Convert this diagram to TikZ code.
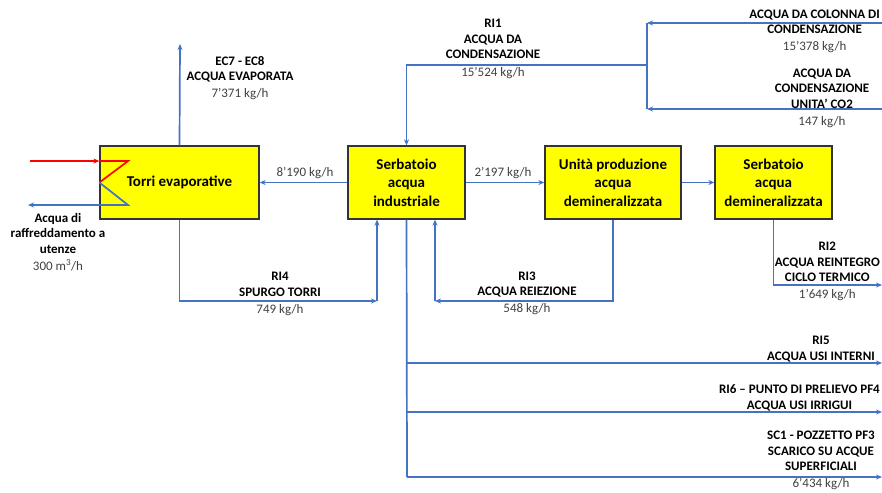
\documentclass[tikz,border=0pt]{standalone}
\usepackage{fontspec}
\setmainfont{Carlito}
\usepackage{tikz}
\usetikzlibrary{arrows.meta,calc,positioning}
\definecolor{flowblue}{HTML}{4472C4}
\definecolor{qtygray}{HTML}{404040}
\definecolor{boxyellow}{HTML}{FFFF00}

\begin{document}
\begin{tikzpicture}[
		x=1pt, y=-1pt,
		unit/.style={rectangle, draw=black!80, line width=1.3pt, fill=boxyellow, minimum height=73pt, align=center, font=\fontsize{15}{18.5}\selectfont\bfseries},
		flow/.style={draw=flowblue, line width=1.7pt, -{Stealth[length=6pt,width=5pt]}},
		pipe/.style={draw=flowblue, line width=1.7pt},
		hot/.style={draw=red, line width=1.7pt},
		lbl/.style={align=center, inner sep=0pt, font=\fontsize{13}{15.5}\selectfont\bfseries},
		qty/.style={inner sep=0pt, text=qtygray, font=\fontsize{13}{15.5}\selectfont}
		]

		\useasboundingbox (0,0) rectangle (882,492);

		% --- units ---
		\node[unit, minimum width=159pt] (torri) at (179.5,182.5) {Torri evaporative};
		\node[unit, minimum width=117pt] (serbind) at (406.5,182.5) {Serbatoio\\acqua\\industriale};
		\node[unit, minimum width=136pt] (unita) at (613,182.5) {Unità produzione\\acqua\\demineralizzata};
		\node[unit, minimum width=117pt] (serbdem) at (773.5,182.5) {Serbatoio\\acqua\\demineralizzata};

		% --- main line ---
		\draw[flow] (serbind) -- (torri);
		\draw[flow] (serbind) -- (unita);
		\draw[flow] (unita) -- (serbdem);
		\node[qty] (q8190) at (305,173) {8’190 kg/h};
		\node[qty] (q2197) at (503,173) {2’197 kg/h};

		% --- cooling circuit ---
		\coordinate (rin) at (30,161);
		\coordinate (zz1) at (128,161);
		\coordinate (zz2) at (128,205);
		\coordinate (rout) at (28,205);
		\draw[hot, -{Stealth[length=6pt,width=5pt]}] (rin) -- (torri.west |- rin);
		\draw[hot] (torri.west |- rin) -- (zz1) -- (torri.west);
		\draw[flow] (torri.west) -- (zz2) -- (rout);
		\node[lbl] (cool) at (58,242) {Acqua di\\raffreddamento a\\utenze\\[1.5pt]\mdseries\color{qtygray}300 m\textsuperscript{3}/h};

		% --- evaporation ---
		\coordinate (evap) at (180,44);
		\draw[flow] (torri.north) -- (evap);
		\node[lbl] (ec7) at (240,78) {EC7 - EC8\\ACQUA EVAPORATA\\[1.5pt]\mdseries\color{qtygray}7’371 kg/h};

		% --- RI4 ---
		\coordinate (ri4c) at (377,301);
		\draw[flow] (torri.south) |- (ri4c);
		\draw[flow] (ri4c) -- (serbind.south -| ri4c);
		\node[lbl] (ri4) at (280,294) {RI4\\SPURGO TORRI\\[1.5pt]\mdseries\color{qtygray}749 kg/h};

		% --- RI3 ---
		\coordinate (ri3c) at (435,301);
		\draw[flow] (unita.south) |- (ri3c);
		\draw[flow] (ri3c) -- (serbind.south -| ri3c);
		\node[lbl] (ri3) at (527,293.5) {RI3\\ACQUA REIEZIONE\\[1.5pt]\mdseries\color{qtygray}548 kg/h};

		% --- RI1 ---
		\coordinate (col) at (882,23);
		\coordinate (co2) at (882,109);
		\coordinate (j1) at (647,23);
		\coordinate (j2) at (647,109);
		\coordinate (jm) at (647,65);
		\draw[flow] (col) -- (j1);
		\draw[flow] (co2) -- (j2);
		\draw[pipe] (j1) -- (j2);
		\draw[flow] (jm) -| (serbind.north);
		\node[lbl] (ri1) at (493,49) {RI1\\ACQUA DA\\CONDENSAZIONE\\[2pt]\mdseries\color{qtygray}15’524 kg/h};
		\node[lbl, anchor=east] (lcol) at (880,31.5) {ACQUA DA COLONNA DI\\CONDENSAZIONE\\[1.5pt]\mdseries\color{qtygray}15’378 kg/h};
		\node[lbl] (lco2) at (822,98) {ACQUA DA\\CONDENSAZIONE\\UNITA’ CO2\\[1.5pt]\mdseries\color{qtygray}147 kg/h};

		% --- RI2 ---
		\coordinate (ri2e) at (882,285);
		\draw[flow] (serbdem.south) |- (ri2e);
		\node[lbl, anchor=east] (ri2) at (880,271.5) {RI2\\ACQUA REINTEGRO\\CICLO TERMICO\\[1.5pt]\mdseries\color{qtygray}1’649 kg/h};

		% --- outlets ---
		\coordinate (bot) at (407,477);
		\coordinate (ri5e) at (882,363);
		\coordinate (ri6e) at (882,412);
		\coordinate (sc1e) at (882,477);
		\draw[pipe] (serbind.south) -- (bot);
		\draw[flow] (bot |- ri5e) -- (ri5e);
		\draw[flow] (bot |- ri6e) -- (ri6e);
		\draw[flow] (bot) -- (sc1e);
		\node[lbl] (ri5) at (821,349) {RI5\\ACQUA USI INTERNI};
		\node[lbl, anchor=east] (ri6) at (880,398) {RI6 – PUNTO DI PRELIEVO PF4\\ACQUA USI IRRIGUI};
		\node[lbl] (sc1) at (821,460.5) {SC1 - POZZETTO PF3\\SCARICO SU ACQUE\\SUPERFICIALI\\[1pt]\mdseries\color{qtygray}6’434 kg/h};

	\end{tikzpicture}
\end{document}
